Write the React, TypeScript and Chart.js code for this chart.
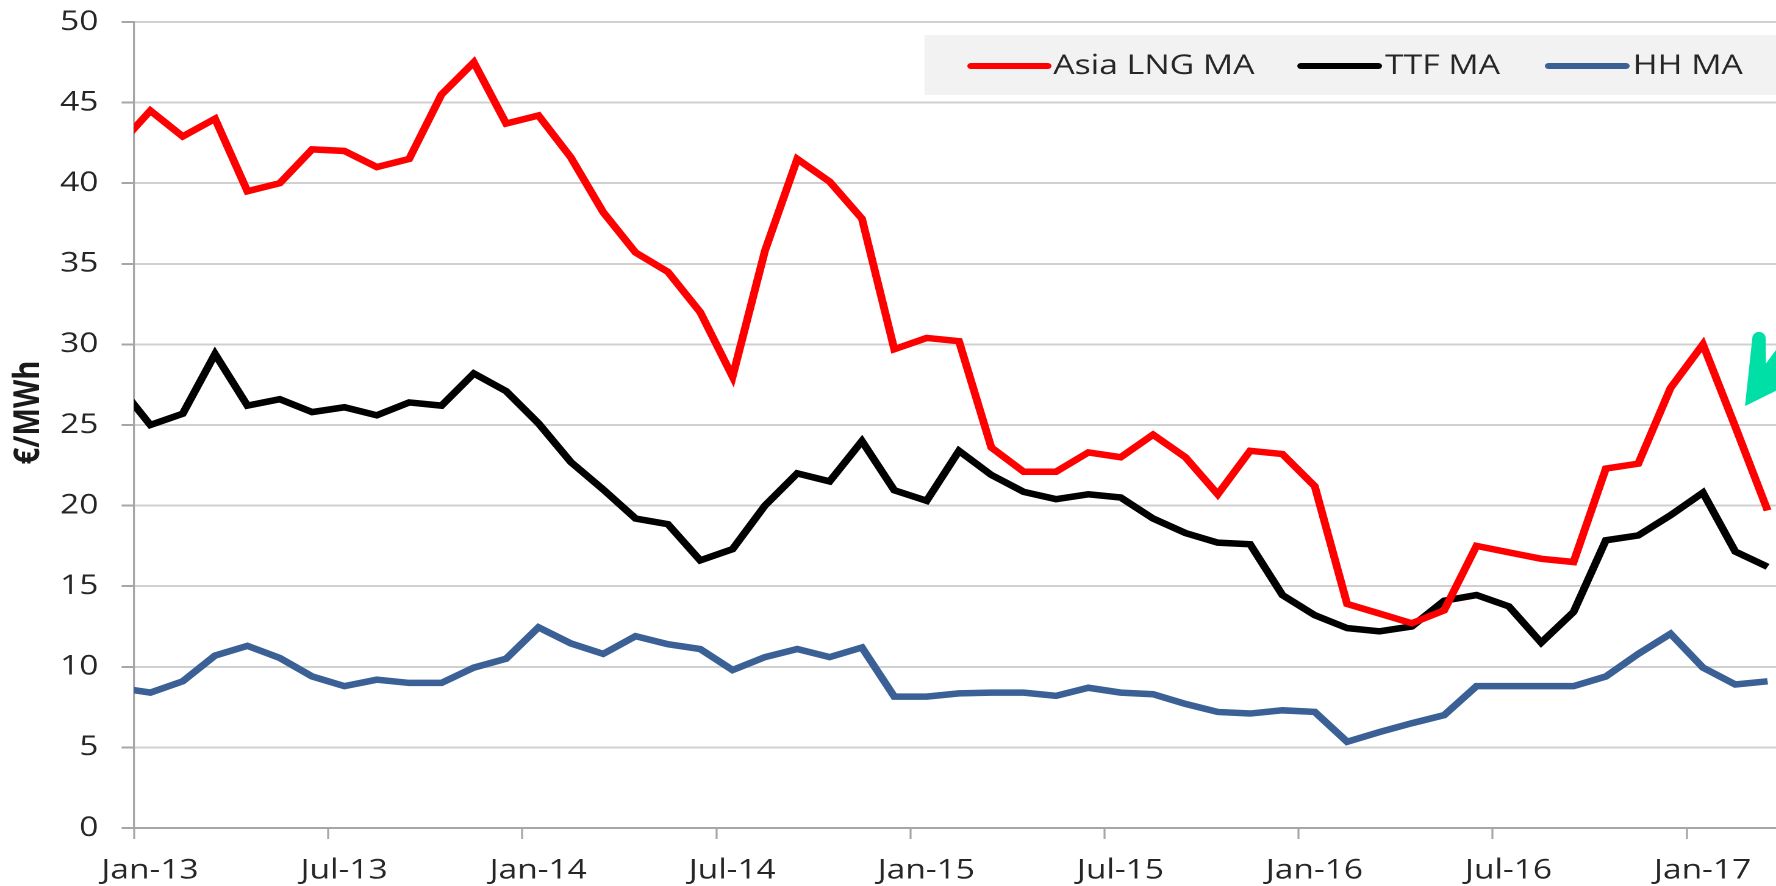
import React, { useEffect, useRef } from "react";
import { Chart, registerables } from "chart.js";

Chart.register(...registerables);

// ---- Data (monthly moving averages, €/MWh), first point Dec-12, last Mar-17 ----
const MONTH_NAMES = ["Jan", "Feb", "Mar", "Apr", "May", "Jun", "Jul", "Aug", "Sep", "Oct", "Nov", "Dec"];

const asiaLngMA = [
  42.3, 44.5, 42.9, 44.0, 39.5, 40.0, 42.1, 42.0, 41.0, 41.5, 45.5, 47.5, 43.7,
  44.2, 41.6, 38.2, 35.7, 34.5, 32.0, 28.0, 35.8, 41.5, 40.1, 37.8, 29.7, 30.4,
  30.2, 23.6, 22.1, 22.1, 23.3, 23.0, 24.4, 23.0, 20.7, 23.4, 23.2, 21.2, 13.9,
  13.3, 12.7, 13.5, 17.5, 17.1, 16.7, 16.5, 22.3, 22.6, 27.3, 30.0, 24.9, 19.7,
];

const ttfMA = [
  27.5, 25.0, 25.7, 29.4, 26.2, 26.6, 25.8, 26.1, 25.6, 26.4, 26.2, 28.2, 27.1,
  25.1, 22.7, 21.0, 19.2, 18.85, 16.6, 17.3, 20.0, 22.0, 21.5, 24.0, 20.95, 20.3,
  23.4, 21.9, 20.85, 20.4, 20.7, 20.5, 19.2, 18.3, 17.7, 17.6, 14.45, 13.2, 12.4,
  12.2, 12.5, 14.1, 14.45, 13.75, 11.5, 13.4, 17.85, 18.15, 19.4, 20.8, 17.15, 16.2,
];

const hhMA = [
  8.7, 8.4, 9.1, 10.7, 11.3, 10.55, 9.4, 8.8, 9.2, 9.0, 9.0, 9.95, 10.5,
  12.45, 11.45, 10.8, 11.9, 11.4, 11.1, 9.8, 10.6, 11.1, 10.6, 11.2, 8.15, 8.15,
  8.35, 8.4, 8.4, 8.2, 8.7, 8.4, 8.3, 7.7, 7.2, 7.1, 7.3, 7.2, 5.35,
  5.95, 6.5, 7.0, 8.8, 8.8, 8.8, 8.8, 9.4, 10.8, 12.05, 9.95, 8.9, 9.1,
];

// point categories: months starting Dec-2012 (offset -1 from Jan-13)
const pointMonthOffsets = asiaLngMA.map((_, i) => i - 1);
const pointMonths = pointMonthOffsets.map((o) => {
  const total = 2013 * 12 + o;
  const y = Math.floor(total / 12);
  return `${MONTH_NAMES[total - y * 12]}-${String(y).slice(2)}`;
});

const xTickLabels = ["Jan-13", "Jul-13", "Jan-14", "Jul-14", "Jan-15", "Jul-15", "Jan-16", "Jul-16", "Jan-17"];
const xTickMonths = [0, 6, 12, 18, 24, 30, 36, 42, 48];
const yTicks = [0, 5, 10, 15, 20, 25, 30, 35, 40, 45, 50];

const seriesLabels = ["Asia LNG MA", "TTF MA", "HH MA"];
const seriesColors = ["#ff0000", "#000000", "#3a6096"];
const yAxisTitle = "€/MWh";

const X_MIN = 0;
const X_MAX = 50.76;
const ARROW_TIP = { x: 49.8, y: 26.17 };

const INTERNAL_W = 1456;
const H = 886;
const FONT = "'Open Sans', sans-serif";
const TEXT_COLOR = "#262626";

const toPoints = (vals: number[]) => vals.map((v, i) => ({ x: pointMonthOffsets[i] + 0.5, y: v, m: pointMonths[i] }));

// font size whose ink width of `text` equals `target` px
function fitSize(text: string, weight: string, target: number): number {
  const base = 40;
  const c = document.createElement("canvas").getContext("2d");
  if (!c) return 28;
  c.font = `${weight} ${base}px ${FONT}`;
  const m = c.measureText(text);
  const ink = (m.actualBoundingBoxLeft || 0) + (m.actualBoundingBoxRight || 0) || m.width;
  return (base * target) / ink;
}

export default function App() {
  const ref = useRef<HTMLCanvasElement>(null);

  useEffect(() => {
    const canvas = ref.current;
    if (!canvas) return;

    const tickSize = fitSize("Jan-13", "normal", 81.2);
    const legendSize = fitSize("Asia LNG MA", "normal", 165.6);
    const titleSize = fitSize(yAxisTitle, "bold", 101.6);

    const boxLegend = {
      id: "boxLegend",
      afterDatasetsDraw(chart: any) {
        const ctx = chart.ctx as CanvasRenderingContext2D;
        const area = chart.chartArea;
        const boxLeft = 757.8;
        const boxTop = 35;
        const boxH = 60;
        const items = [
          { x1: 796, x2: 859, tx: 863.5 },
          { x1: 1066.5, x2: 1130, tx: 1135.5 },
          { x1: 1269.5, x2: 1333, tx: 1338.5 },
        ];
        ctx.save();
        ctx.fillStyle = "#f2f2f2";
        ctx.fillRect(boxLeft, boxTop, area.right - boxLeft + 2, boxH);
        const cy = 66;
        chart.data.datasets.forEach((ds: any, i: number) => {
          const it = items[i];
          ctx.beginPath();
          ctx.strokeStyle = ds.borderColor;
          ctx.lineWidth = 6;
          ctx.lineCap = "round";
          ctx.moveTo(it.x1, cy);
          ctx.lineTo(it.x2, cy);
          ctx.stroke();
          ctx.fillStyle = TEXT_COLOR;
          ctx.font = `${legendSize}px ${FONT}`;
          ctx.textAlign = "left";
          ctx.textBaseline = "middle";
          ctx.fillText(ds.label, it.tx, cy);
        });
        ctx.restore();
      },
    };

    const axisTitle = {
      id: "axisTitle",
      afterDraw(chart: any) {
        const ctx = chart.ctx as CanvasRenderingContext2D;
        ctx.save();
        ctx.translate(23.5, 412.5);
        ctx.rotate(-Math.PI / 2);
        ctx.fillStyle = "#1a1a1a";
        ctx.font = `bold ${titleSize}px ${FONT}`;
        ctx.textAlign = "center";
        ctx.textBaseline = "middle";
        ctx.fillText(yAxisTitle, 0, 0);
        ctx.restore();
      },
    };

    const greenArrow = {
      id: "greenArrow",
      afterDraw(chart: any) {
        const ctx = chart.ctx as CanvasRenderingContext2D;
        const tx = chart.scales.x.getPixelForValue(ARROW_TIP.x);
        const ty = chart.scales.y.getPixelForValue(ARROW_TIP.y);
        ctx.save();
        ctx.fillStyle = "#00dfa6";
        ctx.beginPath();
        ctx.moveTo(tx, ty);
        ctx.lineTo(tx + 6.0, ty - 67.6);
        ctx.lineTo(tx + 17.0, ty - 67.6);
        ctx.lineTo(tx + 17.2, ty - 42.7);
        ctx.lineTo(tx + 33.6, ty - 69.6);
        ctx.lineTo(tx + 50.8, ty - 30.6);
        ctx.closePath();
        ctx.fill();
        ctx.beginPath();
        ctx.ellipse(tx + 11.5, ty - 67.6, 5.5, 6.7, 0, 0, Math.PI * 2);
        ctx.fill();
        ctx.restore();
      },
    };

    const values = [asiaLngMA, ttfMA, hhMA];
    const chart = new Chart(canvas, {
      type: "line",
      data: {
        datasets: values.map((vals, i) => ({
          label: seriesLabels[i],
          data: toPoints(vals),
          borderColor: seriesColors[i],
          backgroundColor: seriesColors[i],
          borderWidth: 6.5,
          pointRadius: 0,
          pointHoverRadius: 0,
          tension: 0,
          fill: false,
          clip: 0,
        })),
      },
      options: {
        animation: false,
        responsive: false,
        devicePixelRatio: 2,
        parsing: { xAxisKey: "x", yAxisKey: "y" },
        layout: { padding: { top: 22, left: 0, right: 0, bottom: 0 } },
        font: { family: FONT },
        plugins: {
          legend: { display: false },
          tooltip: { enabled: false },
        },
        scales: {
          x: {
            type: "linear",
            min: X_MIN,
            max: X_MAX,
            afterBuildTicks: (s: any) => {
              s.ticks = xTickMonths.map((v) => ({ value: v }));
            },
            afterFit: (s: any) => {
              s.height = 58;
              s.paddingLeft = 0;
              s.paddingRight = 0;
            },
            ticks: {
              autoSkip: false,
              maxRotation: 0,
              minRotation: 0,
              padding: 15,
              labelOffset: 13,
              color: TEXT_COLOR,
              font: { family: FONT, size: tickSize },
              callback: (_v: any, i: number) => xTickLabels[i],
            },
            grid: {
              drawOnChartArea: false,
              drawTicks: true,
              tickLength: 11,
              tickColor: "#a6a6a6",
              tickWidth: 1.6,
            },
            border: { display: true, color: "#a6a6a6", width: 2 },
          },
          y: {
            type: "linear",
            min: 0,
            max: 50,
            afterBuildTicks: (s: any) => {
              s.ticks = yTicks.map((v) => ({ value: v }));
            },
            afterFit: (s: any) => {
              s.width = 110;
              s.paddingTop = 0;
              s.paddingBottom = 0;
            },
            ticks: {
              padding: 19,
              color: TEXT_COLOR,
              font: { family: FONT, size: tickSize },
            },
            grid: {
              color: "#d0d0d0",
              lineWidth: 2,
              drawTicks: true,
              tickLength: 10.3,
              tickColor: "#a6a6a6",
              tickWidth: 2,
            },
            border: { display: true, color: "#a6a6a6", width: 1.6 },
            title: { display: false },
          },
        },
      },
      plugins: [boxLegend, axisTitle, greenArrow],
    } as any);
    return () => chart.destroy();
  }, []);

  return (
    <div style={{ position: "fixed", left: 0, top: 0, width: 1776, height: H, background: "#ffffff", overflow: "hidden" }}>
      <canvas
        ref={ref}
        width={INTERNAL_W}
        height={H}
        style={{ width: "1776px", height: `${H}px`, display: "block" }}
      />
    </div>
  );
}
